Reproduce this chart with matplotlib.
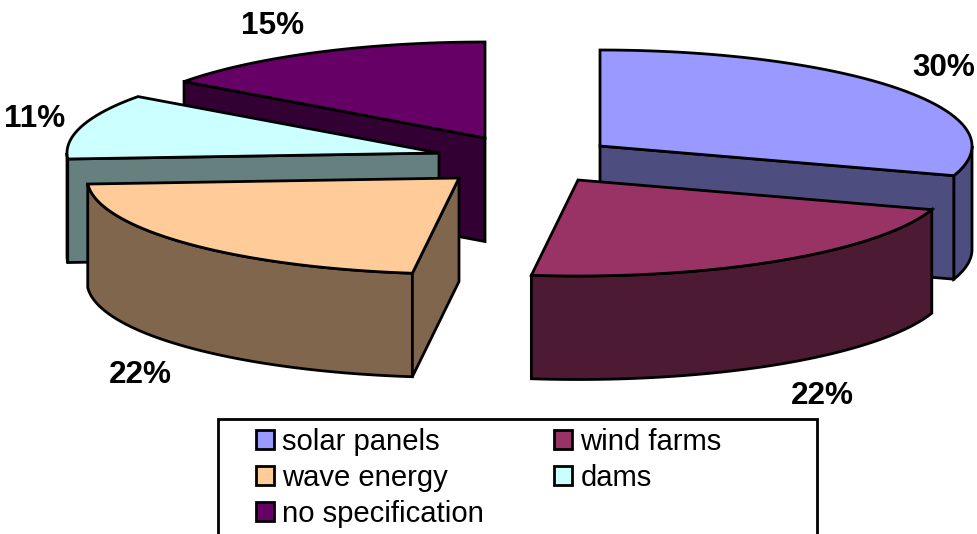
import numpy as np
import matplotlib
matplotlib.use("Agg")
import matplotlib.pyplot as plt
from matplotlib.patches import Polygon, Rectangle

plt.rcParams['font.family'] = ['Liberation Sans', 'DejaVu Sans']

categories = ['solar panels', 'wind farms', 'wave energy', 'dams', 'no specification']
shares = [30, 22, 22, 11, 15]
top_colors = ['#9999FF', '#993366', '#FFCC99', '#CCFFFF', '#660066']
side_colors = ['#4D4D80', '#4D1A33', '#80664D', '#668080', '#330033']

# Exploded slice centres on the canvas (pixel coordinates)
centres = [(600, 146), (578, 180), (459, 178), (439, 153), (485, 138)]
label_spots = [(943.5, 68), (822.5, 396), (140, 375), (34.5, 119), (272.5, 26)]

RX, RY, DEPTH = 372, 96, 103.5
EDGE = dict(edgecolor='black', linewidth=2.0, joinstyle='miter')

fig = plt.figure(figsize=(9.78, 5.34), dpi=100)
ax = fig.add_axes([0, 0, 1, 1])
ax.set_xlim(0, 978)
ax.set_ylim(534, 0)
ax.axis('off')


def rim(cx, cy, t):
    """Point on the tilted rim; t runs clockwise from twelve o'clock, in degrees."""
    r = np.radians(t)
    return np.column_stack([cx + RX * np.sin(r), cy - RY * np.cos(r)])


def draw_slice(cx, cy, t0, t1, top, side, z):
    drop = np.array([0, DEPTH])
    centre = np.array([[cx, cy]])

    # Outer wall, only where the rim faces the viewer
    a, b = max(t0, 90), min(t1, 270)
    if b > a:
        arc = rim(cx, cy, np.linspace(a, b, 80))
        ax.add_patch(Polygon(np.vstack([arc, arc[::-1] + drop]), closed=True,
                             facecolor=side, zorder=z, **EDGE))

    # Cut faces that turn toward the viewer
    for t, visible in ((t0, np.sin(np.radians(t0)) < -1e-6),
                       (t1, np.sin(np.radians(t1)) > 1e-6)):
        if visible:
            p = rim(cx, cy, [t])
            face = np.vstack([centre, p, p + drop, centre + drop])
            ax.add_patch(Polygon(face, closed=True, facecolor=side,
                                 zorder=z + 0.1, **EDGE))

    arc = rim(cx, cy, np.linspace(t0, t1, 120))
    ax.add_patch(Polygon(np.vstack([centre, arc]), closed=True, facecolor=top,
                         zorder=z + 0.2, **EDGE))


bounds = np.concatenate([[0], np.cumsum(shares)]) / sum(shares) * 360
paint_order = [4, 3, 2, 0, 1]
for z, i in enumerate(paint_order):
    draw_slice(*centres[i], bounds[i], bounds[i + 1], top_colors[i], side_colors[i], z + 1)

for share, (x, y) in zip(shares, label_spots):
    ax.text(x, y, f'{share}%', ha='center', va='center', fontsize=22.7,
            fontweight='bold', color='black', zorder=10)

# Legend panel runs off the bottom of the canvas
ax.add_patch(Rectangle((218, 419), 599, 130, facecolor='white', edgecolor='black',
                       linewidth=2.0, zorder=11))
handles = [Rectangle((0, 0), 1, 1, facecolor=c, edgecolor='black', linewidth=2.0)
           for c in top_colors]
# Column-wise fill so the reading order runs across the rows
order = [0, 2, 4, 1, 3]
leg = ax.legend([handles[i] for i in order], [categories[i] for i in order],
                ncols=2, loc='upper left', bbox_to_anchor=(256 / 978, 1 - 428 / 534),
                bbox_transform=fig.transFigure, frameon=False, fontsize=21.1,
                borderpad=0, borderaxespad=0, handlelength=0.62, handleheight=0.62,
                handletextpad=0.27, columnspacing=2.4, labelspacing=0.27)
leg.set_zorder(12)

fig.savefig('out.png', dpi=100)
